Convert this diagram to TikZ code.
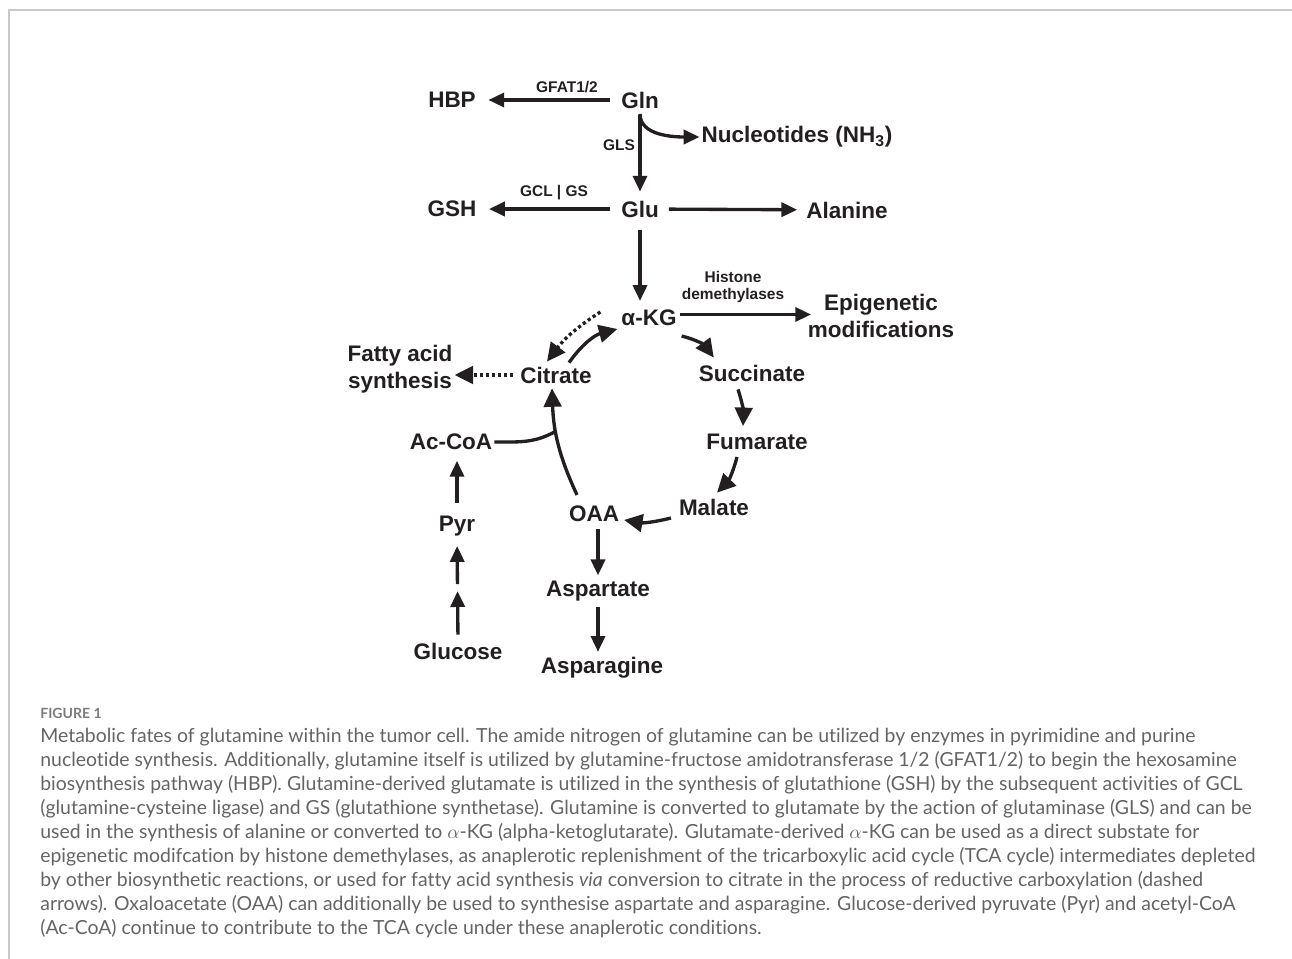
\documentclass[tikz,border=0pt]{standalone}
\usepackage{fontspec}
\setmainfont{Liberation Sans}
\newfontfamily\capfont[Ligatures=NoCommon]{Lato}
\usetikzlibrary{arrows.meta,positioning}
\definecolor{ink}{HTML}{231F20}
\definecolor{capgray}{HTML}{646464}
\definecolor{rulegray}{HTML}{C9C9C9}
\tikzset{
  met/.style={font=\bfseries\fontsize{12.8}{15.3}\selectfont,text=ink,inner sep=1pt,align=center},
  enz/.style={font=\bfseries\fontsize{8.8}{10.2}\selectfont,text=ink,inner sep=1pt,align=center},
  link/.style={draw=ink,line width=1.9pt},
  flow/.style={link,-{Triangle[length=9pt,width=8pt]}},
  cyc/.style={link,-{Triangle[length=10.5pt,width=10pt]}},
  redox/.style={cyc,dash pattern=on 1.8pt off 1.6pt},
  capline/.style={anchor=base west,inner sep=0pt,text=capgray,font=\capfont\fontsize{11.05}{13}\selectfont}
}
\begin{document}
\begin{tikzpicture}[x=0.02cm,y=0.02cm]
  \useasboundingbox (0,0) rectangle (1292,-959);
  \draw[rulegray,line width=0.8pt] (9,-959) -- (9,-10) -- (1292,-10);

  \node[met] (gln) at (640,-100) {Gln};
  \node[met] (hbp) at (452,-100) {HBP};
  \node[met] (nuc) at (797,-137) {Nucleotides (NH\textsubscript{3})};
  \node[met] (glu) at (640,-209) {Glu};
  \node[met] (gsh) at (452,-209) {GSH};
  \node[met] (ala) at (847,-210) {Alanine};
  \node[met] (akg) at (649,-318) {α-KG};
  \node[met] (epi) at (881,-316) {Epigenetic\\modifications};
  \node[met] (cit) at (556,-375) {Citrate};
  \node[met] (fas) at (400,-369) {Fatty acid\\synthesis};
  \node[met] (suc) at (752,-373) {Succinate};
  \node[met] (fum) at (757,-442) {Fumarate};
  \node[met] (mal) at (714,-507) {Malate};
  \node[met] (oaa) at (594,-514) {OAA};
  \node[met] (acoa) at (451,-442) {Ac-CoA};
  \node[met] (pyr) at (457,-526) {Pyr};
  \node[met] (glc) at (458,-651) {Glucose};
  \node[met] (asp) at (598,-591) {Aspartate};
  \node[met] (asn) at (602,-668) {Asparagine};

  \node[enz] (gfat) at (567,-87) {GFAT1/2};
  \node[enz] (gls) at (619,-145) {GLS};
  \node[enz] (gcl) at (554,-193) {GCL | GS};
  \node[enz] (hdm) at (733,-287) {Histone\\demethylases};

  \draw[flow,shorten <=5pt,shorten >=6pt] (gln) -- (hbp);
  \draw[flow,shorten <=2.5pt,shorten >=4pt] (gln) -- (glu);
  \draw[flow,shorten <=2pt] (gln.south) to[out=-90,in=180] (nuc.west);
  \draw[flow,shorten <=5pt,shorten >=6pt] (glu) -- (gsh);
  \draw[flow,shorten <=4.5pt,shorten >=4pt] (glu) -- (ala);
  \draw[flow,shorten <=6pt,shorten >=4pt] (glu.south) -- (glu.south |- akg.north);
  \draw[flow,shorten <=1pt,shorten >=-3pt] ([yshift=2pt]akg.east) -- ([yshift=2pt]akg.east -| epi.west);

  \draw[redox] ([shift={(-19,6)}]akg.west) to[bend right=10] ([shift={(-9,3)}]cit.north);
  \draw[cyc] ([shift={(13,2)}]cit.north) to[bend left=20] ([shift={(-2,-11)}]akg.west);
  \draw[cyc] ([shift={(3,-18)}]akg.east) to[bend left=20] ([shift={(17,5)}]suc.north west);
  \draw[cyc] ([shift={(-14,-6)}]suc.south) to[bend left=10] ([shift={(-14,6)}]fum.north);
  \draw[cyc] ([shift={(-20,-5)}]fum.south) to[bend left=15] ([shift={(3,4)}]mal.north);
  \draw[cyc] ([shift={(-6,-11)}]mal.west) to[bend left=12] ([shift={(3,-6)}]oaa.east);
  \draw[cyc] ([shift={(-17,9)}]oaa.north) to[out=115,in=-88] coordinate[pos=0.62] (merge) ([shift={(-4,-3)}]cit.south);
  \draw[link] (acoa.east) to[out=0,in=-150] (merge);
  \draw[redox,shorten <=3pt] (cit.west) -- (cit.west -| fas.east);

  \draw[flow,shorten <=6pt,shorten >=5pt] (pyr.north) -- (pyr.north |- acoa.south);
  \path (glc.north) -- coordinate[pos=0.5] (gpmid) (pyr.south);
  \draw[flow,shorten <=3.4pt,shorten >=1pt] (glc.north) -- (gpmid);
  \draw[flow,shorten <=3pt,shorten >=4.5pt] (gpmid) -- (pyr.south);
  \draw[flow,shorten <=3pt,shorten >=2pt] (oaa.south -| asp.north) -- (asp.north);
  \draw[flow,shorten <=2pt,shorten >=2pt] (asp.south) -- (asp.south |- asn.north);

  \node[capline,font=\capfont\bfseries\fontsize{8}{10}\selectfont,text=capgray!85] (fig) at (40,-718) {FIGURE 1};
  \foreach \ln [count=\i] in {
    {Metabolic fates of glutamine within the tumor cell. The amide nitrogen of glutamine can be utilized by enzymes in pyrimidine and purine},
    {nucleotide synthesis. Additionally, glutamine itself is utilized by glutamine-fructose amidotransferase 1/2 (GFAT1/2) to begin the hexosamine},
    {biosynthesis pathway (HBP). Glutamine-derived glutamate is utilized in the synthesis of glutathione (GSH) by the subsequent activities of GCL},
    {(glutamine-cysteine ligase) and GS (glutathione synthetase). Glutamine is converted to glutamate by the action of glutaminase (GLS) and can be},
    {used in the synthesis of alanine or converted to $\alpha$-KG (alpha-ketoglutarate). Glutamate-derived $\alpha$-KG can be used as a direct substate for},
    {epigenetic modifcation by histone demethylases, as anaplerotic replenishment of the tricarboxylic acid cycle (TCA cycle) intermediates depleted},
    {by other biosynthetic reactions, or used for fatty acid synthesis \textit{via} conversion to citrate in the process of reductive carboxylation (dashed},
    {arrows). Oxaloacetate (OAA) can additionally be used to synthesise aspartate and asparagine. Glucose-derived pyruvate (Pyr) and acetyl-CoA},
    {(Ac-CoA) continue to contribute to the TCA cycle under these anaplerotic conditions.}}
    \node[capline] (cap\i) at (40,{-742-24*(\i-1)}) {\ln};
\end{tikzpicture}
\end{document}
